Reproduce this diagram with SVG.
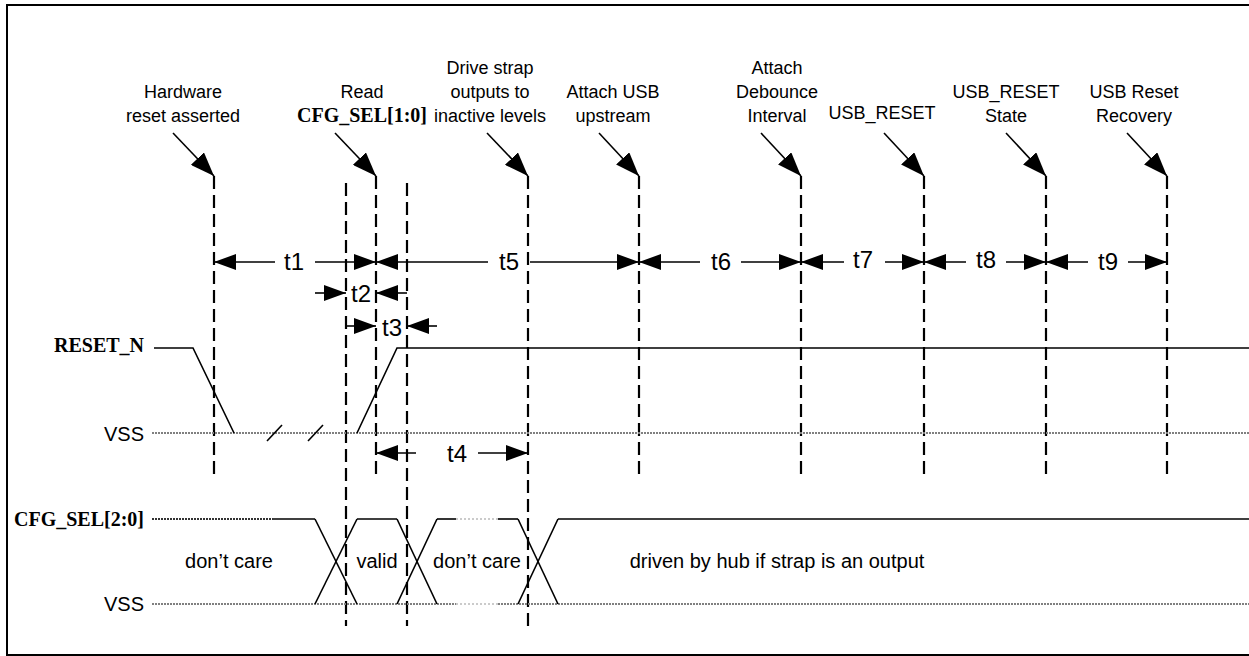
<svg xmlns="http://www.w3.org/2000/svg" width="1249" height="656" viewBox="0 0 1249 656">
<defs>
<marker id="ah" markerUnits="userSpaceOnUse" markerWidth="22" markerHeight="16" refX="22" refY="8" orient="auto" viewBox="0 0 22 16">
<path d="M0,0 L22,8 L0,16 z" fill="#000"/>
</marker>
<marker id="ahl" markerUnits="userSpaceOnUse" markerWidth="24" markerHeight="18" refX="24" refY="9" orient="auto" viewBox="0 0 24 18">
<path d="M0,0 L24,9 L0,18 z" fill="#000"/>
</marker>
</defs>
<style>
.lbl{font-family:"Liberation Sans",Arial,sans-serif;font-size:18px;fill:#000;text-anchor:middle}
.tm{font-family:"Liberation Sans",Arial,sans-serif;font-size:24px;fill:#000;text-anchor:middle}
.wt{font-family:"Liberation Sans",Arial,sans-serif;font-size:20px;fill:#000;text-anchor:middle}
.sig{font-family:"Liberation Serif","Times New Roman",serif;font-size:20px;font-weight:bold;fill:#000;text-anchor:end}
.vss{font-family:"Liberation Sans",Arial,sans-serif;font-size:20px;fill:#000;text-anchor:end}
.dash{stroke:#000;stroke-width:2.2;stroke-dasharray:13,6;fill:none}
.arr{stroke:#000;stroke-width:1.6;fill:none;marker-end:url(#ah)}
.larr{stroke:#000;stroke-width:1.6;fill:none;marker-end:url(#ahl)}
.wave{stroke:#000;stroke-width:1.6;fill:none}
.gnd{stroke:#808080;stroke-width:2.2;stroke-dasharray:2,1;fill:none}
.dc{stroke:#333;stroke-width:2;stroke-dasharray:2,1;fill:none}
.lt{stroke:#bbb;stroke-width:1.5;stroke-dasharray:2,2;fill:none}
</style>
<rect x="0" y="0" width="1249" height="656" fill="#fff"/>
<path d="M1252,5 H7 V655 H1252" fill="none" stroke="#000" stroke-width="2"/>

<g id="labels">
<g id="lbl-hw"><text class="lbl" x="183" y="98">Hardware</text><text class="lbl" x="183" y="122">reset asserted</text></g>
<g id="lbl-read"><text class="lbl" x="362" y="98">Read</text><text class="sig" style="text-anchor:middle" x="362" y="122">CFG_SEL[1:0]</text></g>
<g id="lbl-drive"><text class="lbl" x="490" y="74">Drive strap</text><text class="lbl" x="490" y="98">outputs to</text><text class="lbl" x="490" y="122">inactive levels</text></g>
<g id="lbl-attach"><text class="lbl" x="613" y="98">Attach USB</text><text class="lbl" x="613" y="122">upstream</text></g>
<g id="lbl-deb"><text class="lbl" x="777" y="74">Attach</text><text class="lbl" x="777" y="98">Debounce</text><text class="lbl" x="777" y="122">Interval</text></g>
<g id="lbl-usbreset"><text class="lbl" x="882" y="119">USB_RESET</text></g>
<g id="lbl-state"><text class="lbl" x="1006" y="98">USB_RESET</text><text class="lbl" x="1006" y="122">State</text></g>
<g id="lbl-rec"><text class="lbl" x="1134" y="98">USB Reset</text><text class="lbl" x="1134" y="122">Recovery</text></g>
</g>

<g id="connectors">
<g id="pointers">
<line class="larr" x1="173" y1="133" x2="214" y2="176"/>
<line class="larr" x1="335" y1="133" x2="376" y2="176"/>
<line class="larr" x1="487" y1="133" x2="528" y2="176"/>
<line class="larr" x1="599" y1="133" x2="639" y2="176"/>
<line class="larr" x1="761" y1="133" x2="801" y2="176"/>
<line class="larr" x1="884" y1="133" x2="924" y2="176"/>
<line class="larr" x1="1006" y1="133" x2="1046" y2="176"/>
<line class="larr" x1="1127" y1="133" x2="1167" y2="176"/>
</g>
<g id="markers-v">
<line class="dash" x1="214" y1="176" x2="214" y2="478"/>
<line class="dash" x1="346" y1="183" x2="346" y2="626"/>
<line class="dash" x1="376" y1="176" x2="376" y2="478"/>
<line class="dash" x1="407" y1="183" x2="407" y2="626"/>
<line class="dash" x1="528" y1="176" x2="528" y2="626"/>
<line class="dash" x1="639" y1="176" x2="639" y2="478"/>
<line class="dash" x1="801" y1="176" x2="801" y2="478"/>
<line class="dash" x1="924" y1="176" x2="924" y2="478"/>
<line class="dash" x1="1046" y1="176" x2="1046" y2="478"/>
<line class="dash" x1="1167" y1="176" x2="1167" y2="478"/>
</g>
<g id="timing-arrows">
<line class="arr" x1="275" y1="262" x2="214" y2="262"/>
<line class="arr" x1="315" y1="262" x2="376" y2="262"/>
<line class="arr" x1="488" y1="262" x2="376" y2="262"/>
<line class="arr" x1="530" y1="262" x2="639" y2="262"/>
<line class="arr" x1="700" y1="262" x2="639" y2="262"/>
<line class="arr" x1="741" y1="262" x2="801" y2="262"/>
<line class="arr" x1="844" y1="262" x2="801" y2="262"/>
<line class="arr" x1="885" y1="262" x2="924" y2="262"/>
<line class="arr" x1="966" y1="262" x2="924" y2="262"/>
<line class="arr" x1="1006" y1="262" x2="1046" y2="262"/>
<line class="arr" x1="1088" y1="262" x2="1046" y2="262"/>
<line class="arr" x1="1128" y1="262" x2="1167" y2="262"/>
<line class="arr" x1="315" y1="293" x2="346" y2="293"/>
<line class="arr" x1="407" y1="293" x2="376" y2="293"/>
<line class="arr" x1="346" y1="326" x2="376" y2="326"/>
<line class="arr" x1="437" y1="326" x2="407" y2="326"/>
<line class="arr" x1="416" y1="453" x2="376" y2="453"/>
<line class="arr" x1="478" y1="453" x2="528" y2="453"/>
</g>
</g>

<g id="timing-labels">
<text class="tm" x="294" y="270">t1</text>
<text class="tm" x="361" y="302">t2</text>
<text class="tm" x="392" y="336">t3</text>
<text class="tm" x="457" y="462">t4</text>
<text class="tm" x="509" y="270">t5</text>
<text class="tm" x="721" y="270">t6</text>
<text class="tm" x="863" y="268">t7</text>
<text class="tm" x="986" y="268">t8</text>
<text class="tm" x="1108" y="270">t9</text>
</g>

<g id="reset-n">
<text class="sig" x="144" y="352">RESET_N</text>
<text class="vss" x="144" y="441">VSS</text>
<line class="gnd" x1="152" y1="433" x2="1249" y2="433"/>
<polyline class="wave" points="154,348 193,348 234,433"/>
<polyline class="wave" points="357,433 397,348 1249,348"/>
<line class="wave" x1="267" y1="441" x2="282" y2="425"/>
<line class="wave" x1="308" y1="441" x2="323" y2="425"/>
</g>

<g id="cfg-sel">
<text class="sig" x="144" y="526">CFG_SEL[2:0]</text>
<text class="vss" x="144" y="611">VSS</text>
<line class="gnd" x1="152" y1="604" x2="456" y2="604"/>
<line class="lt" x1="456" y1="604" x2="498" y2="604"/>
<line class="gnd" x1="498" y1="604" x2="1249" y2="604"/>
<line class="dc" x1="152" y1="519" x2="273" y2="519"/>
<line class="wave" x1="273" y1="519" x2="315" y2="519"/>
<line class="wave" x1="315" y1="519" x2="357" y2="604"/>
<line class="wave" x1="315" y1="604" x2="357" y2="519"/>
<line class="wave" x1="357" y1="519" x2="397" y2="519"/>
<line class="wave" x1="397" y1="519" x2="437" y2="604"/>
<line class="wave" x1="397" y1="604" x2="437" y2="519"/>
<line class="wave" x1="437" y1="519" x2="456" y2="519"/>
<line class="lt" x1="456" y1="519" x2="498" y2="519"/>
<line class="wave" x1="498" y1="519" x2="518" y2="519"/>
<line class="wave" x1="518" y1="519" x2="558" y2="604"/>
<line class="wave" x1="518" y1="604" x2="558" y2="519"/>
<line class="wave" x1="558" y1="519" x2="1249" y2="519"/>
<text class="wt" x="229" y="568">don’t care</text>
<text class="wt" x="377" y="568">valid</text>
<text class="wt" x="477" y="568">don’t care</text>
<text class="wt" x="777" y="568">driven by hub if strap is an output</text>
</g>
</svg>
